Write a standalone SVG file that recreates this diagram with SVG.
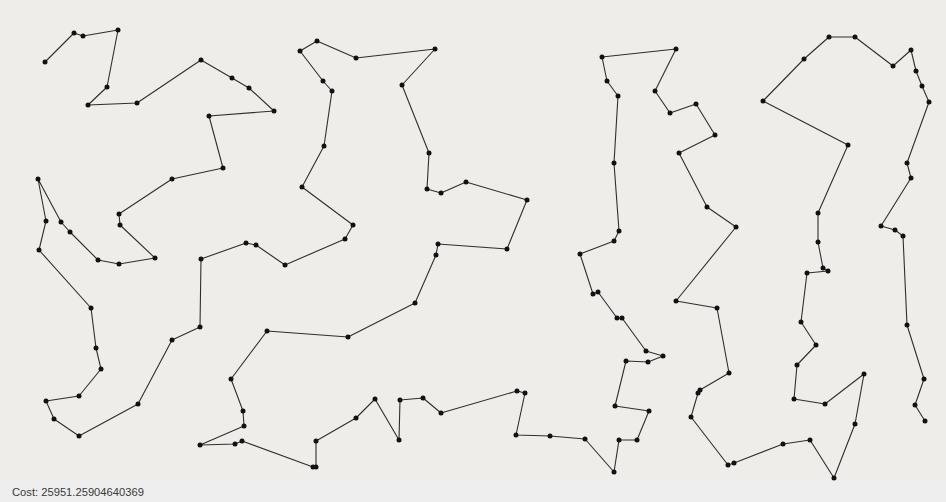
<svg xmlns="http://www.w3.org/2000/svg" width="946" height="502" viewBox="0 0 946 502">
<style>
.bg{fill:#efedea}
.bar{fill:#eeeeee}
.e{fill:none;stroke:#2e2e2e;stroke-width:1.1;stroke-linejoin:round}
.n circle{fill:#111}
.t{font-family:"Liberation Sans",Arial,sans-serif;font-size:11.2px;fill:#3a3a3a}
</style>
<rect class="bg" x="0" y="0" width="946" height="502"/>
<rect class="bar" x="0" y="478" width="946" height="24"/>
<g id="connectors">
<polyline class="e" points="45,62 74,33 83,36 118,30 107,87 88,105 137,103 201,60 232,78 249,88 274,111 209,116 223,168 172,179 119,214 120,225 155,258 119,264 98,260 70,232 61,222 38,179 46,221 39,250 91,308 96,348 101,369 79,396 46,401 54,419 79,436 138,404 172,340 200,327 201,259 246,243 256,245 285,265 345,239 353,225 302,187 324,146 332,91 323,81 300,51 317,41 356,58 435,49 402,85 429,153 427,189 441,193 466,182 527,200 507,249 438,244 436,255 415,303 348,337 267,331 231,379 243,411 244,426 200,445 235,444 242,441 313,467 316,467 316,441 356,418 375,399 399,440 400,400 423,398 441,413 517,391 525,393 516,435 550,436 585,439 614,472 619,440 637,440 649,411 615,406 626,361 648,362 663,356 646,351 622,318 617,318 598,292 593,294 580,254 614,241 619,231 614,163 618,96 607,81 602,57 676,49 655,91 670,113 696,104 715,135 679,153 707,207 736,227 676,301 717,308 729,373 700,390 698,393 691,417 728,465 734,463 783,444 810,440 834,478 855,424 864,374 825,404 794,399 797,365 816,345 801,322 807,273 828,271 823,268 818,242 818,213 848,145 763,101 804,59 829,37 855,37 893,66 911,50 916,71 922,86 929,102 907,163 911,178 881,226 895,230 903,236 907,325 924,379 915,405 925,421"/>
</g>
<g id="nodes">
<g id="n1" class="n"><circle cx="45" cy="62" r="2.5"/></g>
<g id="n2" class="n"><circle cx="74" cy="33" r="2.5"/></g>
<g id="n3" class="n"><circle cx="83" cy="36" r="2.5"/></g>
<g id="n4" class="n"><circle cx="118" cy="30" r="2.5"/></g>
<g id="n5" class="n"><circle cx="107" cy="87" r="2.5"/></g>
<g id="n6" class="n"><circle cx="88" cy="105" r="2.5"/></g>
<g id="n7" class="n"><circle cx="137" cy="103" r="2.5"/></g>
<g id="n8" class="n"><circle cx="201" cy="60" r="2.5"/></g>
<g id="n9" class="n"><circle cx="232" cy="78" r="2.5"/></g>
<g id="n10" class="n"><circle cx="249" cy="88" r="2.5"/></g>
<g id="n11" class="n"><circle cx="274" cy="111" r="2.5"/></g>
<g id="n12" class="n"><circle cx="209" cy="116" r="2.5"/></g>
<g id="n13" class="n"><circle cx="223" cy="168" r="2.5"/></g>
<g id="n14" class="n"><circle cx="172" cy="179" r="2.5"/></g>
<g id="n15" class="n"><circle cx="119" cy="214" r="2.5"/></g>
<g id="n16" class="n"><circle cx="120" cy="225" r="2.5"/></g>
<g id="n17" class="n"><circle cx="155" cy="258" r="2.5"/></g>
<g id="n18" class="n"><circle cx="119" cy="264" r="2.5"/></g>
<g id="n19" class="n"><circle cx="98" cy="260" r="2.5"/></g>
<g id="n20" class="n"><circle cx="70" cy="232" r="2.5"/></g>
<g id="n21" class="n"><circle cx="61" cy="222" r="2.5"/></g>
<g id="n22" class="n"><circle cx="38" cy="179" r="2.5"/></g>
<g id="n23" class="n"><circle cx="46" cy="221" r="2.5"/></g>
<g id="n24" class="n"><circle cx="39" cy="250" r="2.5"/></g>
<g id="n25" class="n"><circle cx="91" cy="308" r="2.5"/></g>
<g id="n26" class="n"><circle cx="96" cy="348" r="2.5"/></g>
<g id="n27" class="n"><circle cx="101" cy="369" r="2.5"/></g>
<g id="n28" class="n"><circle cx="79" cy="396" r="2.5"/></g>
<g id="n29" class="n"><circle cx="46" cy="401" r="2.5"/></g>
<g id="n30" class="n"><circle cx="54" cy="419" r="2.5"/></g>
<g id="n31" class="n"><circle cx="79" cy="436" r="2.5"/></g>
<g id="n32" class="n"><circle cx="138" cy="404" r="2.5"/></g>
<g id="n33" class="n"><circle cx="172" cy="340" r="2.5"/></g>
<g id="n34" class="n"><circle cx="200" cy="327" r="2.5"/></g>
<g id="n35" class="n"><circle cx="201" cy="259" r="2.5"/></g>
<g id="n36" class="n"><circle cx="246" cy="243" r="2.5"/></g>
<g id="n37" class="n"><circle cx="256" cy="245" r="2.5"/></g>
<g id="n38" class="n"><circle cx="285" cy="265" r="2.5"/></g>
<g id="n39" class="n"><circle cx="345" cy="239" r="2.5"/></g>
<g id="n40" class="n"><circle cx="353" cy="225" r="2.5"/></g>
<g id="n41" class="n"><circle cx="302" cy="187" r="2.5"/></g>
<g id="n42" class="n"><circle cx="324" cy="146" r="2.5"/></g>
<g id="n43" class="n"><circle cx="332" cy="91" r="2.5"/></g>
<g id="n44" class="n"><circle cx="323" cy="81" r="2.5"/></g>
<g id="n45" class="n"><circle cx="300" cy="51" r="2.5"/></g>
<g id="n46" class="n"><circle cx="317" cy="41" r="2.5"/></g>
<g id="n47" class="n"><circle cx="356" cy="58" r="2.5"/></g>
<g id="n48" class="n"><circle cx="435" cy="49" r="2.5"/></g>
<g id="n49" class="n"><circle cx="402" cy="85" r="2.5"/></g>
<g id="n50" class="n"><circle cx="429" cy="153" r="2.5"/></g>
<g id="n51" class="n"><circle cx="427" cy="189" r="2.5"/></g>
<g id="n52" class="n"><circle cx="441" cy="193" r="2.5"/></g>
<g id="n53" class="n"><circle cx="466" cy="182" r="2.5"/></g>
<g id="n54" class="n"><circle cx="527" cy="200" r="2.5"/></g>
<g id="n55" class="n"><circle cx="507" cy="249" r="2.5"/></g>
<g id="n56" class="n"><circle cx="438" cy="244" r="2.5"/></g>
<g id="n57" class="n"><circle cx="436" cy="255" r="2.5"/></g>
<g id="n58" class="n"><circle cx="415" cy="303" r="2.5"/></g>
<g id="n59" class="n"><circle cx="348" cy="337" r="2.5"/></g>
<g id="n60" class="n"><circle cx="267" cy="331" r="2.5"/></g>
<g id="n61" class="n"><circle cx="231" cy="379" r="2.5"/></g>
<g id="n62" class="n"><circle cx="243" cy="411" r="2.5"/></g>
<g id="n63" class="n"><circle cx="244" cy="426" r="2.5"/></g>
<g id="n64" class="n"><circle cx="200" cy="445" r="2.5"/></g>
<g id="n65" class="n"><circle cx="235" cy="444" r="2.5"/></g>
<g id="n66" class="n"><circle cx="242" cy="441" r="2.5"/></g>
<g id="n67" class="n"><circle cx="313" cy="467" r="2.5"/></g>
<g id="n68" class="n"><circle cx="316" cy="467" r="2.5"/></g>
<g id="n69" class="n"><circle cx="316" cy="441" r="2.5"/></g>
<g id="n70" class="n"><circle cx="356" cy="418" r="2.5"/></g>
<g id="n71" class="n"><circle cx="375" cy="399" r="2.5"/></g>
<g id="n72" class="n"><circle cx="399" cy="440" r="2.5"/></g>
<g id="n73" class="n"><circle cx="400" cy="400" r="2.5"/></g>
<g id="n74" class="n"><circle cx="423" cy="398" r="2.5"/></g>
<g id="n75" class="n"><circle cx="441" cy="413" r="2.5"/></g>
<g id="n76" class="n"><circle cx="517" cy="391" r="2.5"/></g>
<g id="n77" class="n"><circle cx="525" cy="393" r="2.5"/></g>
<g id="n78" class="n"><circle cx="516" cy="435" r="2.5"/></g>
<g id="n79" class="n"><circle cx="550" cy="436" r="2.5"/></g>
<g id="n80" class="n"><circle cx="585" cy="439" r="2.5"/></g>
<g id="n81" class="n"><circle cx="614" cy="472" r="2.5"/></g>
<g id="n82" class="n"><circle cx="619" cy="440" r="2.5"/></g>
<g id="n83" class="n"><circle cx="637" cy="440" r="2.5"/></g>
<g id="n84" class="n"><circle cx="649" cy="411" r="2.5"/></g>
<g id="n85" class="n"><circle cx="615" cy="406" r="2.5"/></g>
<g id="n86" class="n"><circle cx="626" cy="361" r="2.5"/></g>
<g id="n87" class="n"><circle cx="648" cy="362" r="2.5"/></g>
<g id="n88" class="n"><circle cx="663" cy="356" r="2.5"/></g>
<g id="n89" class="n"><circle cx="646" cy="351" r="2.5"/></g>
<g id="n90" class="n"><circle cx="622" cy="318" r="2.5"/></g>
<g id="n91" class="n"><circle cx="617" cy="318" r="2.5"/></g>
<g id="n92" class="n"><circle cx="598" cy="292" r="2.5"/></g>
<g id="n93" class="n"><circle cx="593" cy="294" r="2.5"/></g>
<g id="n94" class="n"><circle cx="580" cy="254" r="2.5"/></g>
<g id="n95" class="n"><circle cx="614" cy="241" r="2.5"/></g>
<g id="n96" class="n"><circle cx="619" cy="231" r="2.5"/></g>
<g id="n97" class="n"><circle cx="614" cy="163" r="2.5"/></g>
<g id="n98" class="n"><circle cx="618" cy="96" r="2.5"/></g>
<g id="n99" class="n"><circle cx="607" cy="81" r="2.5"/></g>
<g id="n100" class="n"><circle cx="602" cy="57" r="2.5"/></g>
<g id="n101" class="n"><circle cx="676" cy="49" r="2.5"/></g>
<g id="n102" class="n"><circle cx="655" cy="91" r="2.5"/></g>
<g id="n103" class="n"><circle cx="670" cy="113" r="2.5"/></g>
<g id="n104" class="n"><circle cx="696" cy="104" r="2.5"/></g>
<g id="n105" class="n"><circle cx="715" cy="135" r="2.5"/></g>
<g id="n106" class="n"><circle cx="679" cy="153" r="2.5"/></g>
<g id="n107" class="n"><circle cx="707" cy="207" r="2.5"/></g>
<g id="n108" class="n"><circle cx="736" cy="227" r="2.5"/></g>
<g id="n109" class="n"><circle cx="676" cy="301" r="2.5"/></g>
<g id="n110" class="n"><circle cx="717" cy="308" r="2.5"/></g>
<g id="n111" class="n"><circle cx="729" cy="373" r="2.5"/></g>
<g id="n112" class="n"><circle cx="700" cy="390" r="2.5"/></g>
<g id="n113" class="n"><circle cx="698" cy="393" r="2.5"/></g>
<g id="n114" class="n"><circle cx="691" cy="417" r="2.5"/></g>
<g id="n115" class="n"><circle cx="728" cy="465" r="2.5"/></g>
<g id="n116" class="n"><circle cx="734" cy="463" r="2.5"/></g>
<g id="n117" class="n"><circle cx="783" cy="444" r="2.5"/></g>
<g id="n118" class="n"><circle cx="810" cy="440" r="2.5"/></g>
<g id="n119" class="n"><circle cx="834" cy="478" r="2.5"/></g>
<g id="n120" class="n"><circle cx="855" cy="424" r="2.5"/></g>
<g id="n121" class="n"><circle cx="864" cy="374" r="2.5"/></g>
<g id="n122" class="n"><circle cx="825" cy="404" r="2.5"/></g>
<g id="n123" class="n"><circle cx="794" cy="399" r="2.5"/></g>
<g id="n124" class="n"><circle cx="797" cy="365" r="2.5"/></g>
<g id="n125" class="n"><circle cx="816" cy="345" r="2.5"/></g>
<g id="n126" class="n"><circle cx="801" cy="322" r="2.5"/></g>
<g id="n127" class="n"><circle cx="807" cy="273" r="2.5"/></g>
<g id="n128" class="n"><circle cx="828" cy="271" r="2.5"/></g>
<g id="n129" class="n"><circle cx="823" cy="268" r="2.5"/></g>
<g id="n130" class="n"><circle cx="818" cy="242" r="2.5"/></g>
<g id="n131" class="n"><circle cx="818" cy="213" r="2.5"/></g>
<g id="n132" class="n"><circle cx="848" cy="145" r="2.5"/></g>
<g id="n133" class="n"><circle cx="763" cy="101" r="2.5"/></g>
<g id="n134" class="n"><circle cx="804" cy="59" r="2.5"/></g>
<g id="n135" class="n"><circle cx="829" cy="37" r="2.5"/></g>
<g id="n136" class="n"><circle cx="855" cy="37" r="2.5"/></g>
<g id="n137" class="n"><circle cx="893" cy="66" r="2.5"/></g>
<g id="n138" class="n"><circle cx="911" cy="50" r="2.5"/></g>
<g id="n139" class="n"><circle cx="916" cy="71" r="2.5"/></g>
<g id="n140" class="n"><circle cx="922" cy="86" r="2.5"/></g>
<g id="n141" class="n"><circle cx="929" cy="102" r="2.5"/></g>
<g id="n142" class="n"><circle cx="907" cy="163" r="2.5"/></g>
<g id="n143" class="n"><circle cx="911" cy="178" r="2.5"/></g>
<g id="n144" class="n"><circle cx="881" cy="226" r="2.5"/></g>
<g id="n145" class="n"><circle cx="895" cy="230" r="2.5"/></g>
<g id="n146" class="n"><circle cx="903" cy="236" r="2.5"/></g>
<g id="n147" class="n"><circle cx="907" cy="325" r="2.5"/></g>
<g id="n148" class="n"><circle cx="924" cy="379" r="2.5"/></g>
<g id="n149" class="n"><circle cx="915" cy="405" r="2.5"/></g>
<g id="n150" class="n"><circle cx="925" cy="421" r="2.5"/></g>
</g>
<text class="t" x="12" y="496">Cost: 25951.25904640369</text>
</svg>
